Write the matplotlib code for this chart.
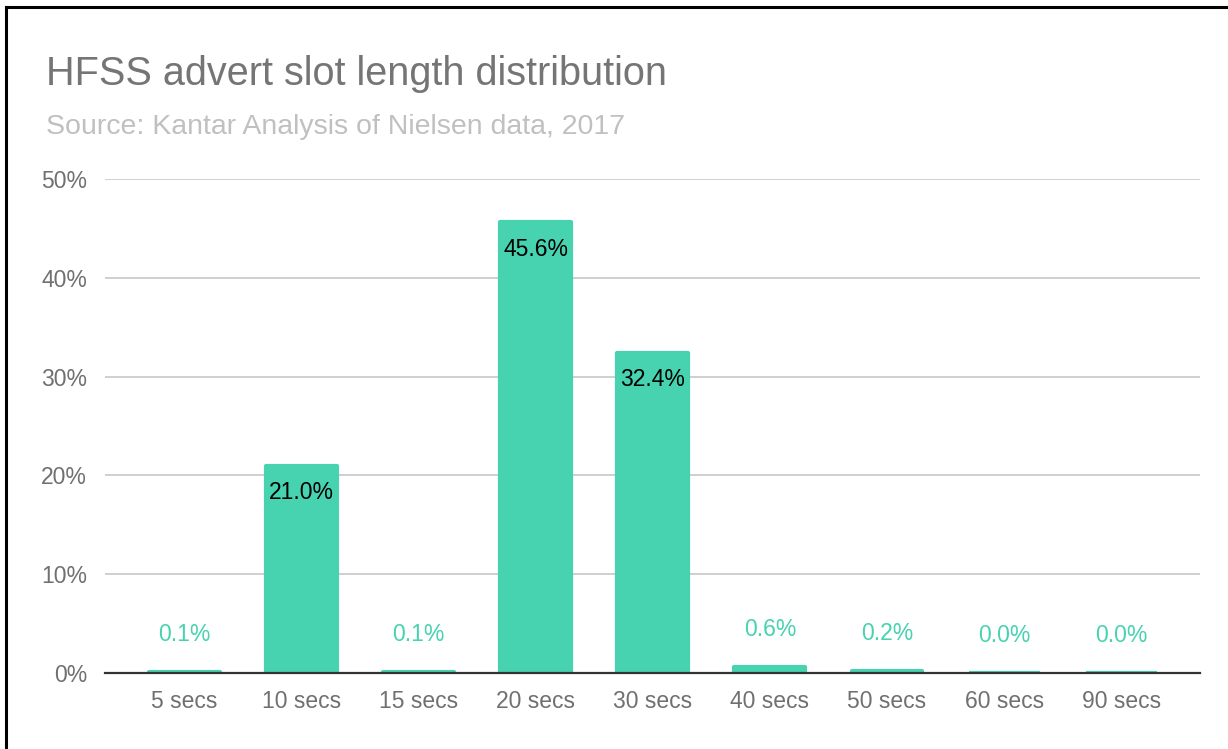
import matplotlib
matplotlib.use("Agg")
import matplotlib.pyplot as plt
from matplotlib.ticker import FuncFormatter, MultipleLocator
from matplotlib.lines import Line2D

plt.rcParams['font.family'] = ['Liberation Sans', 'DejaVu Sans']

categories = ["5 secs", "10 secs", "15 secs", "20 secs", "30 secs",
              "40 secs", "50 secs", "60 secs", "90 secs"]
shares = [0.1, 21.0, 0.1, 45.6, 32.4, 0.6, 0.2, 0.0, 0.0]

title = "HFSS advert slot length distribution"
subtitle = "Source: Kantar Analysis of Nielsen data, 2017"

BAR = "#47d3b0"
GRID = "#cccccc"
TICK = "#707070"

fig = plt.figure(figsize=(12.28, 7.49), dpi=100)
ax = fig.add_axes([0.0855, 0.1015, 0.9775 - 0.0855, 0.761 - 0.1015])

x = list(range(len(categories)))
# a thick round-joined outline gives the bars soft corners and keeps
# near-zero shares visible as a thin sliver
bars = ax.bar(x, shares, width=0.605, color=BAR, edgecolor=BAR,
              linewidth=3.0, zorder=3)
for b in bars:
    b.set_joinstyle("round")

ax.set_xlim(-0.675, len(categories) - 1 + 0.675)
ax.set_ylim(0, 50)
ax.yaxis.set_major_locator(MultipleLocator(10))
ax.yaxis.set_major_formatter(FuncFormatter(lambda v, p: f"{v:.0f}%"))
ax.set_xticks(x)
ax.set_xticklabels(categories)
ax.tick_params(axis="both", length=0, labelsize=16.5, labelcolor=TICK)
ax.tick_params(axis="y", pad=13)
ax.tick_params(axis="x", pad=12)
ax.grid(axis="y", color=GRID, linewidth=1.3, zorder=0)
ax.set_axisbelow(True)
for side in ("left", "right", "top"):
    ax.spines[side].set_visible(False)
ax.spines["bottom"].set_color("#333333")
ax.spines["bottom"].set_linewidth(1.6)
ax.spines["bottom"].set_zorder(4)

# value labels: inside the bar when it is tall enough, above it otherwise
for xi, v in zip(x, shares):
    label = f"{v:.1f}%"
    if v > 5:
        ax.annotate(label, (xi, v), xytext=(0, -11), textcoords="offset points",
                    ha="center", va="top", fontsize=16.5, color="black", zorder=5)
    else:
        ax.annotate(label, (xi, v), xytext=(0, 19), textcoords="offset points",
                    ha="center", va="bottom", fontsize=16.5, color=BAR, zorder=5)

fig.text(46 / 1228, 1 - 85 / 749, title, fontsize=28.5, color="#757575",
         ha="left", va="baseline")
fig.text(46 / 1228, 1 - 134 / 749, subtitle, fontsize=20.5, color="#c0c0c0",
         ha="left", va="baseline")

# frame around the chart
fig.add_artist(Line2D([6 / 1228, 1.0], [1 - 7 / 749, 1 - 7 / 749],
                      color="black", linewidth=2.2, transform=fig.transFigure))
fig.add_artist(Line2D([6 / 1228, 6 / 1228], [0.0, 1 - 7 / 749],
                      color="black", linewidth=2.2, transform=fig.transFigure))

fig.savefig("out.png", dpi=100, facecolor="white")
